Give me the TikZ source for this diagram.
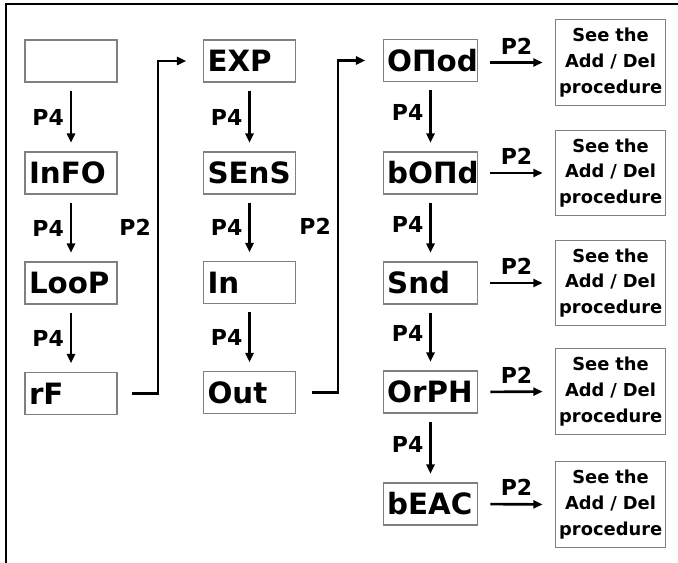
\documentclass[tikz,border=0pt]{standalone}
\usepackage{fontspec}
\setmainfont{DejaVu Sans}
\usetikzlibrary{arrows.meta}
\tikzset{every picture/.style={line width=0.75pt}}

\begin{document}
\begin{tikzpicture}[x=0.75pt,y=0.75pt,yscale=-1,xscale=1,
    menubox/.style={draw={rgb, 255:red, 128; green, 128; blue, 128}, line width=0.8pt, minimum height=31.5pt, text width=63pt, inner xsep=3pt, align=left, font=\bfseries\fontsize{22}{24}\selectfont},
    widebox/.style={menubox, text width=65pt},
    seebox/.style={draw={rgb, 255:red, 128; green, 128; blue, 128}, line width=0.8pt, minimum height=64pt, text width=77pt, inner xsep=3pt, align=center, font=\bfseries\fontsize{13.4}{19.3}\selectfont},
    keylbl/.style={font=\bfseries\fontsize{16.5}{19}\selectfont},
    keyarrow/.style={-{Triangle[length=7pt,width=6pt]}, line width=2pt},
    downarrow/.style={keyarrow, shorten <=6pt, shorten >=6.5pt},
    sidearrow/.style={keyarrow, shorten <=9pt, shorten >=9pt}]
        \useasboundingbox (0,0) rectangle (678,563);
        %Frame
        \draw [line width=1.2pt] (6,563) -- (6,4) -- (678,4) ;

        %Column 1
        \node [menubox] (blank) at (71,61) {};
        \node [menubox] (info) at (71,173) {InFO};
        \node [menubox] (loop) at (71,283) {LooP};
        \node [menubox] (rf) at (71,393.5) {rF};
        %Column 2
        \node [menubox] (exp) at (249.5,61) {EXP};
        \node [menubox] (sens) at (249.5,173) {SEnS};
        \node [menubox] (in) at (249.5,282.5) {In};
        \node [menubox] (out) at (249.5,392.5) {Out};
        %Column 3
        \node [widebox] (omod) at (430.5,60.5) {OΠod};
        \node [widebox] (bomd) at (430.5,173) {bOΠd};
        \node [widebox] (snd) at (430.5,283) {Snd};
        \node [widebox] (orph) at (430.5,392) {OrPH};
        \node [widebox] (beac) at (430.5,504) {bEAC};
        %Add / Del boxes
        \node [seebox] (see1) at (610.5,62.5) {See the\\Add / Del\\procedure};
        \node [seebox] (see2) at (610.5,173) {See the\\Add / Del\\procedure};
        \node [seebox] (see3) at (610.5,283) {See the\\Add / Del\\procedure};
        \node [seebox] (see4) at (610.5,391.5) {See the\\Add / Del\\procedure};
        \node [seebox] (see5) at (610.5,504.5) {See the\\Add / Del\\procedure};

        %P4 arrows
        \draw [downarrow] (blank) -- node [keylbl, left=1pt] {P4} (info) ;
        \draw [downarrow] (info) -- node [keylbl, left=1pt] {P4} (loop) ;
        \draw [downarrow] (loop) -- node [keylbl, left=1pt] {P4} (rf) ;
        \draw [downarrow] (exp) -- node [keylbl, left=1pt] {P4} (sens) ;
        \draw [downarrow] (sens) -- node [keylbl, left=1pt] {P4} (in) ;
        \draw [downarrow] (in) -- node [keylbl, left=1pt] {P4} (out) ;
        \draw [downarrow] (omod) -- node [keylbl, left=1pt, yshift=3pt] {P4} (bomd) ;
        \draw [downarrow] (bomd) -- node [keylbl, left=1pt, yshift=3pt] {P4} (snd) ;
        \draw [downarrow] (snd) -- node [keylbl, left=1pt, yshift=3pt] {P4} (orph) ;
        \draw [downarrow] (orph) -- node [keylbl, left=1pt, yshift=3pt] {P4} (beac) ;

        %P2 column jumps
        \coordinate (turn1) at (158,0);
        \coordinate (turn2) at (338,0);
        \draw [keyarrow, shorten <=11pt, shorten >=12.5pt] (rf.east) -- (rf.east -| turn1) -- node [keylbl, left=1pt] {P2} (turn1 |- exp.west) -- (exp.west) ;
        \draw [keyarrow, shorten <=12pt, shorten >=13pt] (out.east) -- (out.east -| turn2) -- node [keylbl, left=1pt] {P2} (turn2 |- omod.west) -- (omod.west) ;

        %P2 to Add / Del
        \draw [sidearrow] (omod.east |- see1) -- node [keylbl, above=2pt] {P2} (see1.west) ;
        \draw [sidearrow] (bomd.east) -- node [keylbl, above=2pt] {P2} (see2.west) ;
        \draw [sidearrow] (snd.east) -- node [keylbl, above=2pt] {P2} (see3.west) ;
        \draw [sidearrow] (orph.east) -- node [keylbl, above=2pt] {P2} (see4.west) ;
        \draw [sidearrow] (beac.east) -- node [keylbl, above=2pt] {P2} (see5.west) ;
\end{tikzpicture}
\end{document}
